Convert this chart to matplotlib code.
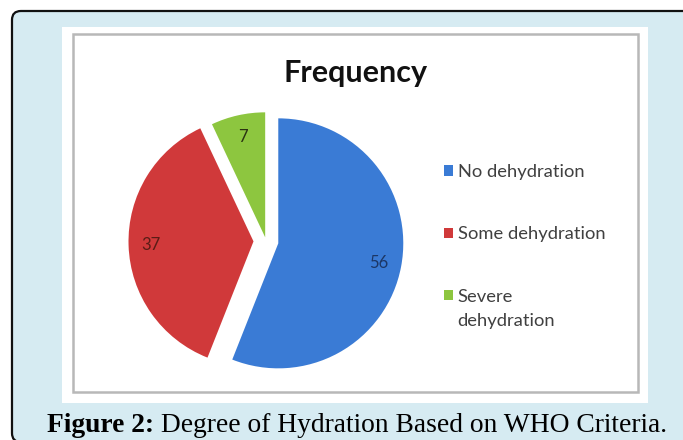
import textwrap

import matplotlib
matplotlib.use('Agg')
import matplotlib.pyplot as plt
from matplotlib.patches import FancyBboxPatch, Rectangle
from matplotlib.text import Annotation

# data
categories = ['No dehydration', 'Some dehydration', 'Severe dehydration']
values = [56, 37, 7]
slice_colors = ['#3a7bd5', '#d0393a', '#8dc63f']
label_colors = ['#1c3766', '#5a1c16', '#2b3312']
explode = [0.1, 0.1, 0.03]

title = 'Frequency'
caption_bold = 'Figure 2:'
caption_rest = ' Degree of Hydration Based on WHO Criteria.'

W, H = 683, 440


def fx(px):
    return px / W


def fy(py):
    return 1 - py / H


fig = plt.figure(figsize=(W / 100, H / 100), dpi=100)
fig.patch.set_facecolor('white')

# light blue frame with rounded corner (right / bottom run off the image)
frame = FancyBboxPatch((fx(12), fy(442)), fx(700) - fx(12), fy(11) - fy(442),
                       boxstyle='round,pad=0,rounding_size=0.013',
                       transform=fig.transFigure, facecolor='#d6ebf2',
                       edgecolor='#111111', linewidth=1.6, zorder=0,
                       mutation_aspect=W / H)
fig.patches.append(frame)

# white chart panel + grey chart border
fig.patches.append(Rectangle((fx(62), fy(403)), fx(648) - fx(62), fy(27) - fy(403),
                             transform=fig.transFigure, facecolor='white',
                             edgecolor='none', zorder=1))
fig.patches.append(Rectangle((fx(73), fy(392)), fx(638) - fx(73), fy(34) - fy(392),
                             transform=fig.transFigure, facecolor='none',
                             edgecolor='#b8b8b8', linewidth=1.8, zorder=2))

# pie axes: square 300px centred on (266, 241), radius 125px
ax = fig.add_axes([fx(116), fy(391), 300 / W, 300 / H])
ax.set_zorder(3)
ax.patch.set_visible(False)

total = sum(values)
wedges, _, autotexts = ax.pie(values, explode=explode, colors=slice_colors,
                              startangle=90, counterclock=False,
                              autopct=lambda p: f'{p * total / 100:.0f}',
                              pctdistance=0.82,
                              wedgeprops=dict(linewidth=0))
for t, c in zip(autotexts, label_colors):
    t.set_color(c)
    t.set_fontsize(12)
    t.set_family('Lato')
ax.set_xlim(-1.2, 1.2)
ax.set_ylim(-1.2, 1.2)
ax.set_aspect('equal')
ax.axis('off')

fig.text(fx(356), fy(82), title, ha='center', va='baseline',
         fontsize=22, fontweight='bold', family='Lato', color='#111111', zorder=4)

# legend: first line of each wrapped label in the legend, the rest below it
wrapped = [textwrap.fill(c, 16).split('\n') for c in categories]
leg_size = 13.2
leg = fig.legend(wedges, [w[0] for w in wrapped], loc='upper left',
                 bbox_to_anchor=(fx(444), fy(164)), frameon=False,
                 prop={'family': 'Lato', 'size': leg_size},
                 handlelength=0.5, handleheight=0.5, handletextpad=0.25,
                 labelspacing=2.53, borderpad=0, borderaxespad=0)
leg.set_zorder(5)
for t, w in zip(leg.get_texts(), wrapped):
    t.set_color('#404040')
    prev = t
    for extra in w[1:]:
        a = Annotation(extra, xy=(0, 0), xycoords=prev,
                       xytext=(0, -6), textcoords='offset points',
                       ha='left', va='top', color='#404040',
                       family='Lato', fontsize=leg_size,
                       annotation_clip=False)
        a.set_zorder(6)
        fig.add_artist(a)
        prev = a

cap = fig.text(fx(47), fy(432), caption_bold, ha='left', va='baseline',
               fontsize=19.8, fontweight='bold', family='Liberation Serif',
               color='black', zorder=4)
ax.annotate(caption_rest, xy=(1, 0), xycoords=cap, ha='left', va='bottom',
            fontsize=19.8, family='Liberation Serif', color='black',
            annotation_clip=False)

plt.savefig('out.png', dpi=100, facecolor='white')
plt.close()
